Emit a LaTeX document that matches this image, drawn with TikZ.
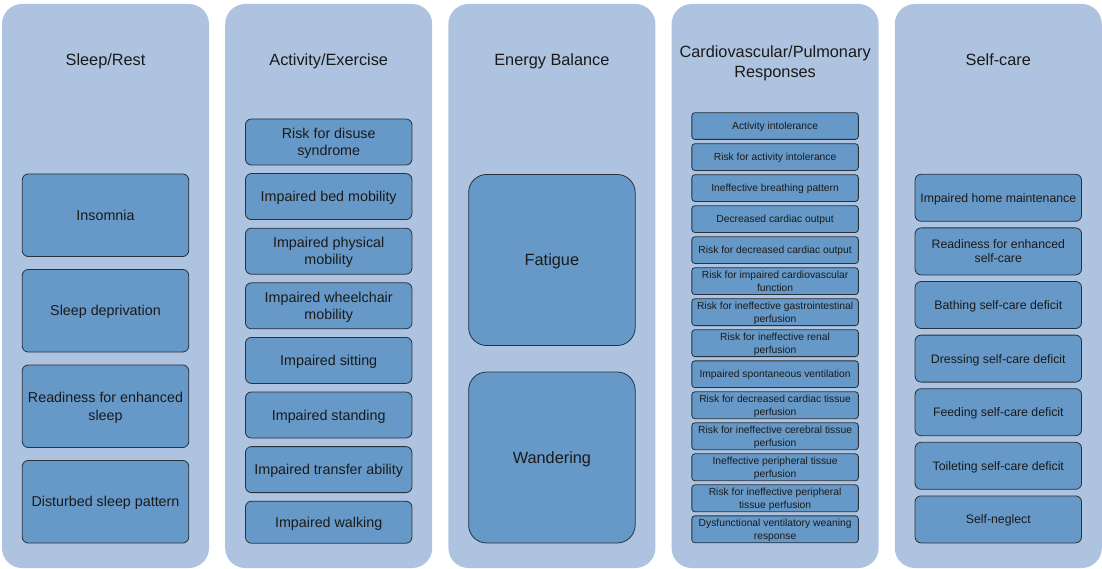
\documentclass[tikz,border=0pt]{standalone}
\usepackage{fontspec}
\setmainfont{Liberation Sans}
\definecolor{colbg}{HTML}{ADC3DF}
\definecolor{boxfill}{HTML}{6699C8}
\definecolor{boxline}{HTML}{28313C}
\definecolor{txt}{HTML}{1A1A1A}
\newcommand\tstrut{\rule{0pt}{0.95em}}
\newcommand\bstrut{\rule[-0.234em]{0pt}{0.234em}}
\begin{document}
\begin{tikzpicture}[x=1pt,y=-1pt,
 column/.style={fill=colbg, draw=none, rounded corners=20pt, minimum width=207pt, minimum height=564pt, inner sep=0pt},
 title/.style={text=txt, font=\fontsize{16.3}{20}\selectfont, align=center, inner sep=0pt},
 bx/.style={fill=boxfill, draw=boxline, line width=0.8pt, minimum width=166.5pt, text=txt, align=center, inner sep=1pt},
 sleepbox/.style={bx, rounded corners=6pt, minimum height=82.5pt, font=\fontsize{14.3}{18}\selectfont},
 actbox/.style={bx, rounded corners=6pt, minimum height=46pt, font=\fontsize{14.3}{16.7}\selectfont},
 energybox/.style={bx, rounded corners=18pt, minimum height=171pt, font=\fontsize{16.3}{20}\selectfont},
 cardbox/.style={bx, rounded corners=3pt, minimum height=26.7pt, font=\fontsize{10.3}{12.7}\selectfont},
 selfbox/.style={bx, rounded corners=6pt, minimum height=47pt, font=\fontsize{12.3}{14.3}\selectfont}]
\useasboundingbox (0,0) rectangle (1102,569);
% columns
\node[column] (c1) at (105.5,286) {};
\node[column] (c2) at (328.7,286) {};
\node[column] (c3) at (551.9,286) {};
\node[column] (c4) at (775.1,286) {};
\node[column] (c5) at (998.3,286) {};
% titles
\node[title, anchor=base] (t1) at (105.5,65.7) {Sleep/Rest};
\node[title, anchor=base] (t2) at (328.7,65.7) {Activity/Exercise};
\node[title, anchor=base] (t3) at (551.9,65.7) {Energy Balance};
\node[title] (t4) at (775.1,63) {Cardiovascular/Pulmonary\\Responses};
\node[title, anchor=base] (t5) at (998.3,65.7) {Self-care};
% Sleep/Rest
\node[sleepbox] (s1) at (105.5,215.25) {\tstrut Insomnia\bstrut};
\node[sleepbox] (s2) at (105.5,310.75) {\tstrut Sleep deprivation\bstrut};
\node[sleepbox] (s3) at (105.5,406.25) {\tstrut Readiness for enhanced\\sleep\bstrut};
\node[sleepbox] (s4) at (105.5,501.75) {\tstrut Disturbed sleep pattern\bstrut};
% Activity/Exercise
\node[actbox] (a1) at (328.7,142) {\tstrut Risk for disuse\\syndrome\bstrut};
\node[actbox] (a2) at (328.7,196.6) {\tstrut Impaired bed mobility\bstrut};
\node[actbox] (a3) at (328.7,251.2) {\tstrut Impaired physical\\mobility\bstrut};
\node[actbox] (a4) at (328.7,305.8) {\tstrut Impaired wheelchair\\mobility\bstrut};
\node[actbox] (a5) at (328.7,360.4) {\tstrut Impaired sitting\bstrut};
\node[actbox] (a6) at (328.7,415) {\tstrut Impaired standing\bstrut};
\node[actbox] (a7) at (328.7,469.6) {\tstrut Impaired transfer ability\bstrut};
\node[actbox, minimum height=42pt] (a8) at (328.7,522.2) {\tstrut Impaired walking\bstrut};
% Energy Balance
\node[energybox] (e1) at (551.9,260) {\tstrut Fatigue\bstrut};
\node[energybox] (e2) at (551.9,457.5) {\tstrut Wandering\bstrut};
% Cardiovascular/Pulmonary
\node[cardbox] (p1) at (775.1,126.05) {\tstrut Activity intolerance\bstrut};
\node[cardbox] (p2) at (775.1,157.07) {\tstrut Risk for activity intolerance\bstrut};
\node[cardbox] (p3) at (775.1,188.09) {\tstrut Ineffective breathing pattern\bstrut};
\node[cardbox] (p4) at (775.1,219.11) {\tstrut Decreased cardiac output\bstrut};
\node[cardbox] (p5) at (775.1,250.13) {\tstrut Risk for decreased cardiac output\bstrut};
\node[cardbox] (p6) at (775.1,281.15) {\tstrut Risk for impaired cardiovascular\\function\bstrut};
\node[cardbox] (p7) at (775.1,312.17) {\tstrut Risk for ineffective gastrointestinal\\perfusion\bstrut};
\node[cardbox] (p8) at (775.1,343.19) {\tstrut Risk for ineffective renal\\perfusion\bstrut};
\node[cardbox] (p9) at (775.1,374.21) {\tstrut Impaired spontaneous ventilation\bstrut};
\node[cardbox] (p10) at (775.1,405.23) {\tstrut Risk for decreased cardiac tissue\\perfusion\bstrut};
\node[cardbox] (p11) at (775.1,436.25) {\tstrut Risk for ineffective cerebral tissue\\perfusion\bstrut};
\node[cardbox] (p12) at (775.1,467.27) {\tstrut Ineffective peripheral tissue\\perfusion\bstrut};
\node[cardbox] (p13) at (775.1,498.29) {\tstrut Risk for ineffective peripheral\\tissue perfusion\bstrut};
\node[cardbox] (p14) at (775.1,529.31) {\tstrut Dysfunctional ventilatory weaning\\response\bstrut};
% Self-care
\node[selfbox] (f1) at (998.3,197.8) {\tstrut Impaired home maintenance\bstrut};
\node[selfbox] (f2) at (998.3,251.4) {\tstrut Readiness for enhanced\\self-care\bstrut};
\node[selfbox] (f3) at (998.3,305.0) {\tstrut Bathing self-care deficit\bstrut};
\node[selfbox] (f4) at (998.3,358.6) {\tstrut Dressing self-care deficit\bstrut};
\node[selfbox] (f5) at (998.3,412.2) {\tstrut Feeding self-care deficit\bstrut};
\node[selfbox] (f6) at (998.3,465.8) {\tstrut Toileting self-care deficit\bstrut};
\node[selfbox] (f7) at (998.3,519.4) {\tstrut Self-neglect\bstrut};
\end{tikzpicture}
\end{document}
